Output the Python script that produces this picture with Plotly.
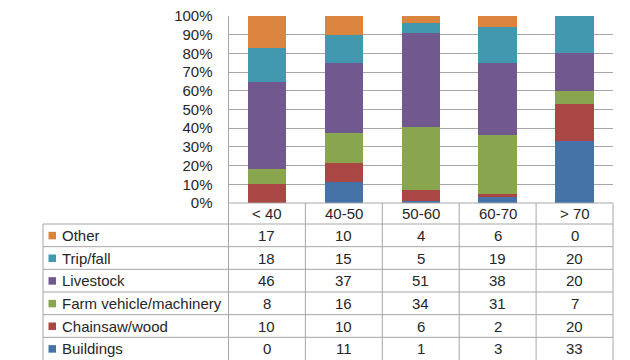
import plotly.graph_objects as go

# ---- data ----
categories = ["< 40", "40-50", "50-60", "60-70", "> 70"]
series_names = ["Buildings", "Chainsaw/wood", "Farm vehicle/machinery", "Livestock", "Trip/fall", "Other"]
buildings = [0, 11, 1, 3, 33]
chainsaw = [10, 10, 6, 2, 20]
farm = [8, 16, 34, 31, 7]
livestock = [46, 37, 51, 38, 20]
tripfall = [18, 15, 5, 19, 20]
other = [17, 10, 4, 6, 0]
series_values = [buildings, chainsaw, farm, livestock, tripfall, other]
colors = ["#4572A7", "#AA4643", "#89A54E", "#71588F", "#4198AF", "#DB843D"]

W, H = 630, 360
FONT = "Liberation Sans, Arial, sans-serif"
FS = 15
TXT = "#262626"
LINE = "#a6a6a6"

def px(x):
    return x / W

def py(y):
    return 1 - y / H

x_left_plot = 228.5
x_right = 613
y_top = 16
y_axis = 203
x_table_left = 43
header_bottom = 224
row_h = (360 - header_bottom) / 6

fig = go.Figure()
for name, vals, col in zip(series_names, series_values, colors):
    fig.add_trace(go.Bar(x=categories, y=vals, name=name, marker=dict(color=col, line=dict(width=0))))

fig.update_layout(
    barmode="stack",
    barnorm="percent",
    bargap=0.5,
    width=W, height=H,
    margin=dict(l=0, r=0, t=0, b=0, autoexpand=False),
    paper_bgcolor="white",
    plot_bgcolor="white",
    showlegend=False,
    font=dict(family=FONT, size=FS, color=TXT),
    xaxis=dict(domain=[px(x_left_plot), px(x_right)], showticklabels=False, showgrid=False,
               showline=False, zeroline=False, ticks="", automargin=False),
    yaxis=dict(domain=[py(y_axis), py(y_top)], range=[0, 100], dtick=10, ticksuffix="%",
               showgrid=True, gridcolor=LINE, gridwidth=1, zeroline=False, automargin=False,
               showline=True, linecolor=LINE, linewidth=1, ticks="", ticklabelstandoff=12,
               tickfont=dict(family=FONT, size=FS, color=TXT)),
)

shapes = []
# axis baseline
shapes.append(dict(type="line", xref="paper", yref="paper", x0=px(x_left_plot), x1=px(x_right),
                   y0=py(y_axis), y1=py(y_axis), line=dict(color=LINE, width=1)))
col_w = (x_right - x_left_plot) / len(categories)
for i in range(len(categories) + 1):
    xx = x_left_plot + i * col_w
    shapes.append(dict(type="line", xref="paper", yref="paper", x0=px(xx), x1=px(xx),
                       y0=py(y_axis), y1=0, line=dict(color=LINE, width=1)))
shapes.append(dict(type="line", xref="paper", yref="paper", x0=px(x_table_left), x1=px(x_table_left),
                   y0=py(header_bottom), y1=0, line=dict(color=LINE, width=1)))
for r in range(6):
    yy = header_bottom + r * row_h
    shapes.append(dict(type="line", xref="paper", yref="paper", x0=px(x_table_left), x1=px(x_right),
                       y0=py(yy), y1=py(yy), line=dict(color=LINE, width=1)))

annotations = []
for c in categories:
    annotations.append(dict(x=c, xref="x", y=py((y_axis + header_bottom) / 2), yref="paper",
                            text=c, showarrow=False, xanchor="center", yanchor="middle",
                            font=dict(family=FONT, size=FS, color=TXT)))
rows = list(zip(series_names, series_values, colors))[::-1]
for r, (name, vals, col) in enumerate(rows):
    yc = header_bottom + (r + 0.5) * row_h
    shapes.append(dict(type="rect", xref="paper", yref="paper",
                       x0=px(48.5), x1=px(56), y0=py(yc - 3.5), y1=py(yc + 4),
                       fillcolor=col, line=dict(width=0)))
    annotations.append(dict(x=px(59.5), xref="paper", y=py(yc), yref="paper", text=name,
                            showarrow=False, xanchor="left", yanchor="middle",
                            font=dict(family=FONT, size=FS, color=TXT)))
    for c, v in zip(categories, vals):
        annotations.append(dict(x=c, xref="x", y=py(yc), yref="paper", text=str(v),
                                showarrow=False, xanchor="center", yanchor="middle",
                                font=dict(family=FONT, size=FS, color=TXT)))

fig.update_layout(shapes=shapes, annotations=annotations)
fig.write_html("out.html")
